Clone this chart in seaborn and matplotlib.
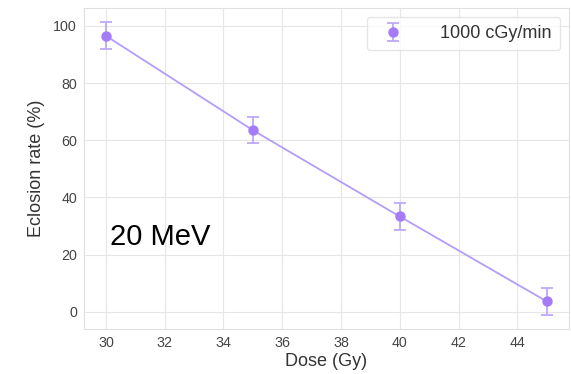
import numpy as np
import matplotlib
matplotlib.use('Agg')
import matplotlib.pyplot as plt
import seaborn as sns

sns.set_style('whitegrid', {'grid.color': '#e6e6e6', 'axes.edgecolor': '#e0e0e0'})
plt.rcParams['font.family'] = ['Liberation Sans', 'DejaVu Sans']

# data
dose = [30, 35, 40, 45]
eclosion = [96.5, 63.5, 33.3, 3.6]
err = [4.7, 4.6, 4.6, 4.6]
series_label = '1000 cGy/min'
energy_label = '20 MeV'

point_color = '#a47cf8'
line_color = '#b49cf9'

fig = plt.figure(figsize=(5.71, 3.74), dpi=100)
ax = fig.add_axes([0.147, 0.12, 0.849, 0.859])

sns.lineplot(x=dose, y=eclosion, ax=ax, color=line_color, lw=1.3, zorder=2)
ax.errorbar(dose, eclosion, yerr=err, fmt='o', color=point_color,
            ecolor='#bda8f9', elinewidth=1.3, capsize=4, capthick=1.3,
            markersize=6.5, label=series_label, zorder=3)

ax.set_xticks(np.arange(30, 46, 2))
ax.set_yticks(np.arange(0, 101, 20))
ax.tick_params(labelsize=10.3, labelcolor='#444444', length=0, pad=5)
ax.set_xlabel('Dose (Gy)', fontsize=13, color='#333333', labelpad=2)
ax.set_ylabel('Eclosion rate (%)', fontsize=13, color='#333333', labelpad=6)

ax.text(30.15, 26, energy_label, fontsize=21, va='center', ha='left', color='black')

leg = ax.legend(loc='upper right', fontsize=13, frameon=True, handletextpad=1.6,
                borderpad=0.45)
leg.get_frame().set_edgecolor('#e0e0e0')
for t in leg.get_texts():
    t.set_color('#333333')

fig.savefig('out.png', dpi=100)
